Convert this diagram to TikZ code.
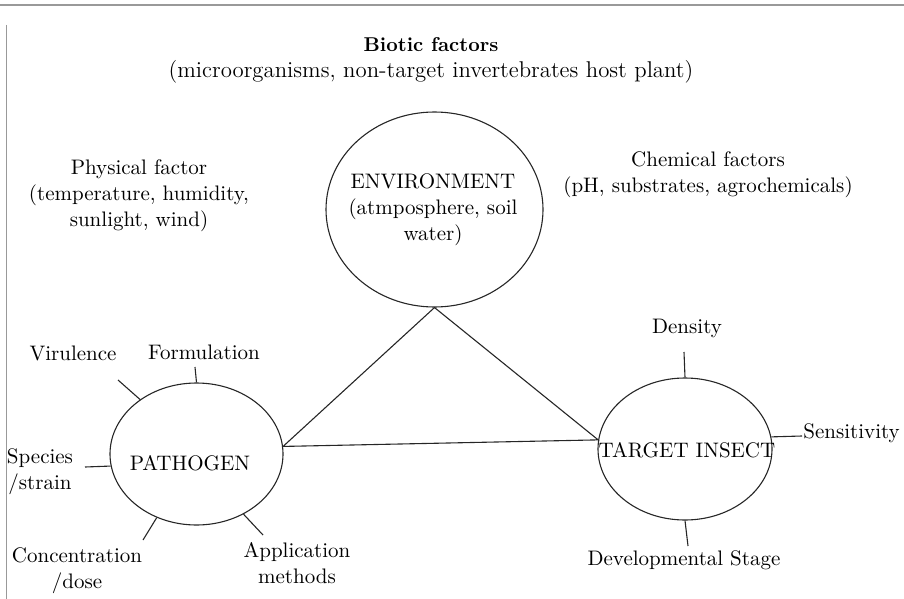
\documentclass[tikz,border=0pt]{standalone}
\usepackage{tikz}
\usetikzlibrary{shapes.geometric}
\tikzset{
LINE/.style ={draw=black!85,line cap=butt,line width=0.55pt},
FRAME/.style ={draw=black!40,line width=0.7pt},
BLOB/.style={draw=black!85,line width=0.55pt,ellipse,inner sep=0pt},
TEXT/.style={inner sep=1pt,align=center,font=\fontsize{10.5}{13}\selectfont},
}
\begin{document}
\begin{tikzpicture}
[x=0.5pt, y=-0.5pt]
	\useasboundingbox (0,0) rectangle (904,599);
	\draw[FRAME] (0,5) -- (904,5);
	\draw[FRAME] (6.5,25) -- (6.5,599);
	% the three circles
	\node[BLOB, minimum width=108.5pt, minimum height=97.5pt] (env) at (434.5,209.5) {};
	\node[TEXT] (envtext) at (433,210) {ENVIRONMENT\\(atmposphere, soil\\water)};
	\node[BLOB, minimum width=86.5pt, minimum height=71pt] (pat) at (196.5,454) {};
	\node[TEXT] (pattext) at (190,463) {PATHOGEN};
	\node[BLOB, minimum width=87pt, minimum height=71pt] (ins) at (685,449) {};
	\node[TEXT] (instext) at (687,450) {TARGET INSECT};
	% factors
	\node[TEXT] (bio) at (431,60) {\textbf{\fontsize{10}{13}\selectfont Biotic factors}\\
		\fontsize{11.4}{13}\selectfont (microorganisms, non-target invertebrates host plant)};
	\node[TEXT] (phys) at (139,196) {Physical factor\\(temperature, humidity,\\sunlight, wind)};
	\node[TEXT] (chem) at (708,175) {Chemical factors\\(pH, substrates, agrochemicals)};
	% pathogen properties
	\node[TEXT] (vir) at (73,353) {Virulence};
	\node[TEXT] (form) at (204,352) {Formulation};
	\node[TEXT] (spec) at (40,472) {Species\\/strain};
	\node[TEXT] (conc) at (77,571) {Concentration\\/dose};
	\node[TEXT] (appl) at (297,563) {Application\\methods};
	% insect properties
	\node[TEXT] (dens) at (687,328) {Density};
	\node[TEXT, anchor=west] (sens) at (801,433) {Sensitivity};
	\node[TEXT] (dev) at (684,560) {Developmental Stage};
	\coordinate (vir-e) at (118,380);
	\coordinate (form-e) at (195,367);
	\coordinate (spec-e) at (85,467);
	\coordinate (conc-e) at (143,540);
	\coordinate (appl-e) at (263,535);
	\coordinate (dens-e) at (684,352);
	\coordinate (sens-e) at (802,436);
	\coordinate (dev-e) at (688,546);
	% triangle
	\draw[LINE] (env.south) -- (pat.5) -- (ins.174) -- cycle;
	\foreach \a/\e in {136/vir-e, 90/form-e, 188/spec-e, 238/conc-e, 308/appl-e} {
	\draw[LINE] (pat.\a) -- (\e);}
	\foreach \a/\e in {90/dens-e, 8/sens-e, 270/dev-e} {
	\draw[LINE] (ins.\a) -- (\e);}
\end{tikzpicture}
\end{document}
